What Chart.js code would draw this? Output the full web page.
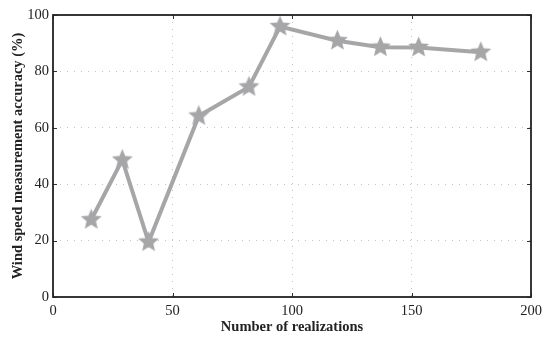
<!DOCTYPE html>
<html>
<head>
<meta charset="utf-8">
<script src="https://cdn.jsdelivr.net/npm/chart.js@4"></script>
<style>
  html, body { margin: 0; padding: 0; background: #fff; }
  canvas { display: block; }
</style>
</head>
<body>
<canvas id="myChart" width="557" height="342"></canvas>
<script>
// realizations vs accuracy
const realizations = [16, 29, 40, 61, 82, 95, 119, 137, 153, 179];
const accuracy = [27.4, 48.6, 19.5, 64.2, 74.5, 95.9, 90.9, 88.6, 88.5, 86.8];
const xTicks = [0, 50, 100, 150, 200];
const yTicks = [0, 20, 40, 60, 80, 100];

const lineGray = '#a6a6a8';
const serif = '"Liberation Serif", "Times New Roman", serif';

/* filled five point star used as point marker */
const makeStar = (size, color) => {
  const c = document.createElement('canvas');
  c.width = size;
  c.height = size;
  const g = c.getContext('2d');
  const cx = size / 2, cy = size / 2;
  const outer = size / 2 - 0.5, inner = outer * 0.45;
  g.beginPath();
  for (let i = 0; i < 10; i++) {
    const r = i % 2 === 0 ? outer : inner;
    const a = -Math.PI / 2 + i * Math.PI / 5;
    const px = cx + r * Math.cos(a), py = cy + r * Math.sin(a);
    if (i === 0) g.moveTo(px, py); else g.lineTo(px, py);
  }
  g.closePath();
  g.fillStyle = color;
  g.fill();
  return c;
};
const star = makeStar(23, lineGray);

/* box round the plot plus inward tick marks */
const boxPlugin = {
  id: 'box',
  afterDraw(chart) {
    const { ctx, chartArea: a, scales } = chart;
    ctx.save();
    ctx.strokeStyle = '#333';
    ctx.lineWidth = 1;
    ctx.beginPath();
    xTicks.forEach((v) => {
      const x = Math.round(scales.x.getPixelForValue(v)) + 0.5;
      ctx.moveTo(x, a.bottom); ctx.lineTo(x, a.bottom - 4);
      ctx.moveTo(x, a.top); ctx.lineTo(x, a.top + 4);
    });
    yTicks.forEach((v) => {
      const y = Math.round(scales.y.getPixelForValue(v)) + 0.5;
      ctx.moveTo(a.left, y); ctx.lineTo(a.left + 4, y);
      ctx.moveTo(a.right, y); ctx.lineTo(a.right - 4, y);
    });
    ctx.stroke();
    ctx.strokeStyle = '#222';
    ctx.lineWidth = 1.8;
    ctx.strokeRect(a.left, a.top, a.right - a.left, a.bottom - a.top);
    ctx.restore();
  },
};

const chart = new Chart(document.getElementById('myChart'), {
  type: 'line',
  data: {
    datasets: [
      {
        data: realizations.map((x, i) => ({ x: x, y: accuracy[i] })),
        borderColor: lineGray,
        backgroundColor: lineGray,
        borderWidth: 4,
        pointStyle: star,
        pointRadius: 11,
        fill: false,
        tension: 0,
      },
    ],
  },
  options: {
    responsive: false,
    animation: false,
    layout: { padding: { top: 13, right: 26, left: 0, bottom: 0 } },
    plugins: {
      legend: { display: false },
      tooltip: { enabled: false },
    },
    scales: {
      x: {
        type: 'linear',
        min: 0,
        max: 200,
        afterBuildTicks: (scale) => {
          scale.ticks = xTicks.map((v) => ({ value: v }));
        },
        afterFit: (scale) => {
          scale.height = 45;
        },
        grid: {
          color: (c) => (c.tick.value === 0 || c.tick.value === 200 ? 'rgba(0,0,0,0)' : '#c4c4c4'),
          borderDash: [1, 6],
          drawTicks: false,
        },
        border: { display: false, dash: [1, 6] },
        ticks: {
          color: '#222',
          padding: 5,
          maxRotation: 0,
          font: { family: serif, size: 14.5 },
        },
        title: {
          display: true,
          text: 'Number of realizations',
          color: '#222',
          padding: { top: 0, bottom: 6 },
          font: { family: serif, size: 14.5, weight: 'bold' },
        },
      },
      y: {
        min: 0,
        max: 100,
        afterBuildTicks: (scale) => {
          scale.ticks = yTicks.map((v) => ({ value: v }));
        },
        afterFit: (scale) => {
          scale.width = 53;
        },
        grid: {
          color: (c) => (c.tick.value === 0 || c.tick.value === 100 ? 'rgba(0,0,0,0)' : '#c4c4c4'),
          drawTicks: false,
        },
        border: { display: false, dash: [1, 6] },
        ticks: {
          color: '#222',
          padding: 4,
          font: { family: serif, size: 14.5 },
        },
        title: {
          display: true,
          text: 'Wind speed measurement accuracy (%)',
          color: '#222',
          padding: { top: 10, bottom: 0 },
          font: { family: serif, size: 14.5, weight: 'bold' },
        },
      },
    },
  },
  plugins: [boxPlugin],
});
</script>
</body>
</html>
